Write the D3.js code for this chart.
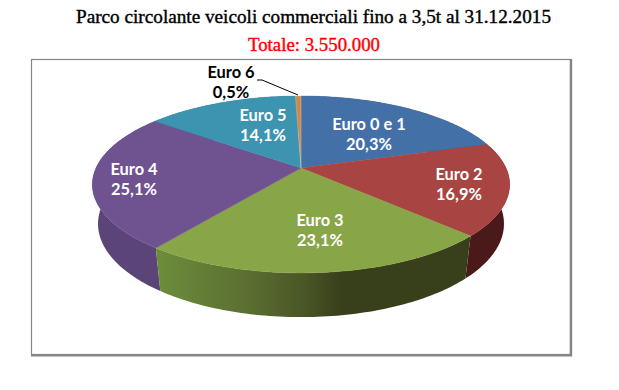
<!DOCTYPE html>
<html>
<head>
<meta charset="utf-8">
<script src="https://cdn.jsdelivr.net/npm/d3@7"></script>
<style>
  html, body { margin: 0; padding: 0; background: #fff; }
  svg { display: block; }
  .title { font-family: "Liberation Serif", serif; text-anchor: middle; }
  .label { font-family: Lato, "Open Sans", sans-serif; font-weight: 700; font-size: 16.4px; text-anchor: middle; }
</style>
</head>
<body>
<svg id="chart" width="619" height="390"></svg>
<script>
const categories = ['Euro 0 e 1', 'Euro 2', 'Euro 3', 'Euro 4', 'Euro 5', 'Euro 6'];
const values = [20.3, 16.9, 23.1, 25.1, 14.1, 0.5];
const valueLabels = ['20,3%', '16,9%', '23,1%', '25,1%', '14,1%', '0,5%'];
const topColors = ['#4470a8', '#a84442', '#88a548', '#6f5290', '#3d94b0', '#d6873e'];
const wallColors = ['#2d4a70', '#4a1a1a', '#3a441c', '#5b4478', '#285f72', '#8c5626'];
const labelPos = [[369, 130], [459, 180], [320, 226], [134, 175], [263, 120.5], [231, 78]];
const labelColors = ['#fff', '#fff', '#fff', '#fff', '#fff', '#000'];

const svg = d3.select('#chart');

// perspective projection of the pie disc, apex of the top face at (cx, cy)
const cx = 301, cy = 168;
const sx = 205, sy = 85.4, k = 0.186;
const bottomShift = 0.027, depth = 40;

function project(angle, lower) {
  let u = Math.sin(angle);
  let v = -Math.cos(angle);
  let w = 1 - k * v + (lower ? bottomShift : 0);
  return [cx + sx * u / w, cy + (sy * v + (lower ? depth : 0)) / w];
}

function arcPoints(a0, a1, lower) {
  let n = Math.max(2, Math.ceil((a1 - a0) / 0.02));
  return d3.range(n + 1).map(i => project(a0 + (a1 - a0) * i / n, lower));
}

const pie = d3.pie().sort(null).value(d => d);
const slices = pie(values);
const line = d3.line();

svg.append('rect').attr('x', 31.5).attr('y', 59.5).attr('width', 539).attr('height', 295)
  .attr('fill', '#fff').attr('stroke', '#868686').attr('stroke-width', 1.2);
svg.append('path').attr('d', 'M571 59V355.3H31').attr('fill', 'none').attr('stroke', '#868686').attr('stroke-width', 2.4);

// green wall fades to dark going right
const defs = svg.append('defs');
const grad = defs.append('linearGradient').attr('id', 'greenWall')
  .attr('gradientUnits', 'userSpaceOnUse').attr('x1', 160).attr('x2', 340).attr('y1', 0).attr('y2', 0);
grad.append('stop').attr('offset', 0).attr('stop-color', '#6c8c3a');
grad.append('stop').attr('offset', 0.5).attr('stop-color', '#5a6e31');
grad.append('stop').attr('offset', 0.8).attr('stop-color', '#4a5626');
grad.append('stop').attr('offset', 1).attr('stop-color', '#38401b');

// walls first, from the back to the front
const wallOrder = [4, 5, 0, 3, 1, 2];
wallOrder.forEach(i => {
  let s = slices[i];
  let pts = arcPoints(s.startAngle, s.endAngle, false)
    .concat(arcPoints(s.startAngle, s.endAngle, true).reverse());
  svg.append('path').attr('d', line(pts) + 'Z')
    .attr('fill', i === 2 ? 'url(#greenWall)' : wallColors[i]);
});

// top faces
slices.forEach((s, i) => {
  let pts = [[cx, cy]].concat(arcPoints(s.startAngle, s.endAngle, false));
  svg.append('path').attr('d', line(pts) + 'Z').attr('fill', topColors[i])
    .attr('stroke', i === 5 ? '#b9c9d0' : topColors[i]).attr('stroke-width', i === 5 ? 0.5 : 0.4);
});

svg.append('path').attr('d', 'M257 80H262L298 95').attr('fill', 'none').attr('stroke', '#000').attr('stroke-width', 1);

categories.forEach((c, i) => {
  let t = svg.append('text').attr('class', 'label').attr('x', labelPos[i][0]).attr('y', labelPos[i][1])
    .attr('fill', labelColors[i]);
  t.append('tspan').attr('x', labelPos[i][0]).text(c);
  t.append('tspan').attr('x', labelPos[i][0]).attr('dy', 20).text(valueLabels[i]);
});

svg.append('text').attr('class', 'title').attr('x', 313.5).attr('y', 23)
  .attr('font-size', 19.5).attr('fill', '#000').attr('stroke', '#000').attr('stroke-width', 0.4)
  .attr('textLength', 475).attr('lengthAdjust', 'spacingAndGlyphs')
  .text('Parco circolante veicoli commerciali fino a 3,5t al 31.12.2015');
svg.append('text').attr('class', 'title').attr('x', 314).attr('y', 51)
  .attr('font-size', 19.5).attr('fill', '#f00').attr('stroke', '#f00').attr('stroke-width', 0.4)
  .attr('textLength', 132).attr('lengthAdjust', 'spacingAndGlyphs')
  .text('Totale: 3.550.000');
</script>
</body>
</html>
